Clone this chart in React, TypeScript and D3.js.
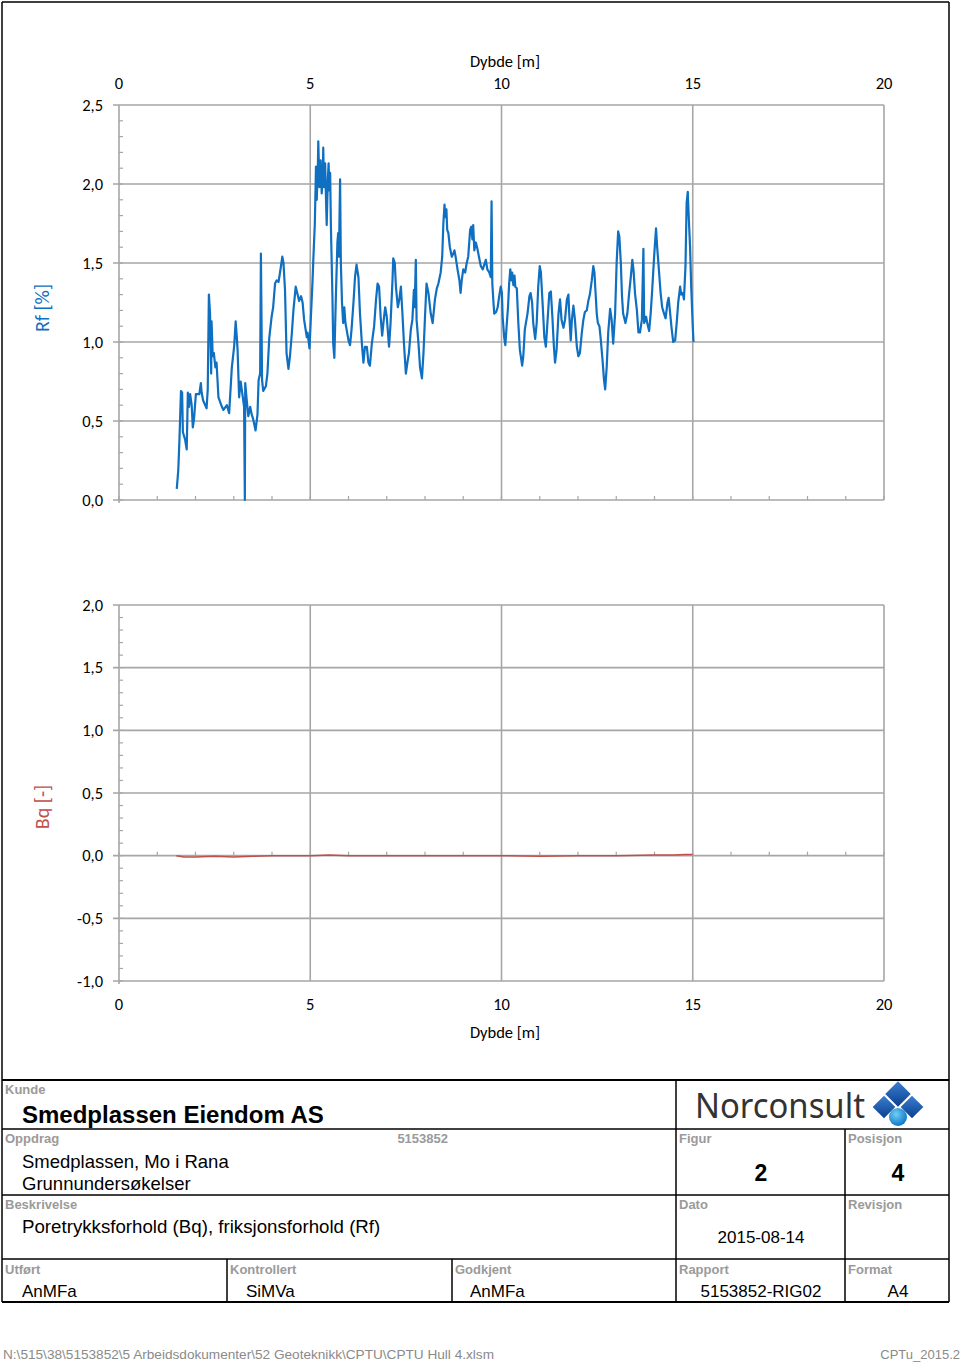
import React from "react";
import * as d3 from "d3";

// ---------- DATA ----------
const depthTicks = [0, 5, 10, 15, 20];
const rfTicks = [0, 0.5, 1.0, 1.5, 2.0, 2.5];
const bqTicks = [-1.0, -0.5, 0, 0.5, 1.0, 1.5, 2.0];

// Rf [%] vs depth [m]
const rfSeries: [number, number][] = [
  [1.51,0.07],[1.55,0.19],[1.58,0.38],[1.62,0.69],[1.65,0.68],[1.67,0.43],[1.73,0.38],[1.77,0.32],[1.80,0.68],[1.83,0.59],[1.86,0.67],[1.90,0.60],[1.93,0.46],[1.96,0.51],[2.01,0.67],[2.10,0.67],[2.14,0.74],[2.16,0.68],[2.20,0.63],[2.29,0.58],[2.32,0.70],[2.35,1.30],[2.38,1.18],[2.41,0.80],[2.42,1.13],[2.45,0.91],[2.48,0.93],[2.52,0.84],[2.55,0.87],[2.60,0.65],[2.69,0.59],[2.73,0.57],[2.82,0.60],[2.88,0.55],[2.95,0.84],[3.01,0.97],[3.05,1.13],[3.08,1.03],[3.10,0.95],[3.14,0.65],[3.18,0.75],[3.22,0.68],[3.27,0.59],[3.29,0.00],[3.30,0.74],[3.34,0.63],[3.38,0.53],[3.43,0.59],[3.47,0.54],[3.51,0.51],[3.57,0.44],[3.62,0.54],[3.65,0.76],[3.69,0.80],[3.71,1.56],[3.74,0.76],[3.77,0.69],[3.84,0.72],[3.88,0.80],[3.93,1.03],[3.99,1.16],[4.03,1.22],[4.08,1.37],[4.12,1.39],[4.17,1.38],[4.21,1.44],[4.27,1.54],[4.30,1.50],[4.34,1.33],[4.38,0.93],[4.43,0.83],[4.47,0.91],[4.52,1.06],[4.56,1.20],[4.62,1.35],[4.66,1.31],[4.71,1.26],[4.76,1.29],[4.80,1.25],[4.84,1.14],[4.91,1.03],[4.93,1.06],[4.98,0.96],[5.01,1.12],[5.06,1.39],[5.08,1.52],[5.12,1.75],[5.15,2.11],[5.17,1.90],[5.20,2.12],[5.21,2.27],[5.24,1.98],[5.27,2.15],[5.30,1.94],[5.33,2.09],[5.34,2.23],[5.36,1.98],[5.39,2.13],[5.41,1.92],[5.43,1.74],[5.46,2.03],[5.48,2.13],[5.50,1.96],[5.52,2.07],[5.54,1.73],[5.58,1.29],[5.60,0.99],[5.63,0.90],[5.67,1.29],[5.71,1.63],[5.73,1.69],[5.75,1.54],[5.78,2.03],[5.80,1.50],[5.83,1.25],[5.86,1.12],[5.89,1.22],[5.92,1.12],[5.95,1.08],[6.00,1.01],[6.04,0.98],[6.08,1.08],[6.13,1.25],[6.17,1.41],[6.21,1.49],[6.26,1.41],[6.30,1.18],[6.35,0.99],[6.39,0.87],[6.43,0.97],[6.48,0.97],[6.52,0.87],[6.56,0.85],[6.61,0.99],[6.67,1.10],[6.72,1.27],[6.76,1.37],[6.80,1.35],[6.84,1.16],[6.88,1.04],[6.93,1.16],[6.96,1.22],[7.00,1.16],[7.06,0.97],[7.10,1.12],[7.15,1.39],[7.17,1.53],[7.21,1.50],[7.24,1.35],[7.29,1.22],[7.33,1.27],[7.37,1.35],[7.41,1.18],[7.45,0.99],[7.50,0.80],[7.54,0.87],[7.58,0.93],[7.63,1.08],[7.67,1.14],[7.71,1.33],[7.73,1.22],[7.76,1.52],[7.78,1.14],[7.83,0.99],[7.87,0.84],[7.92,0.77],[7.96,0.93],[8.00,1.16],[8.04,1.37],[8.09,1.31],[8.15,1.18],[8.20,1.12],[8.26,1.27],[8.31,1.34],[8.35,1.37],[8.41,1.44],[8.45,1.54],[8.48,1.75],[8.51,1.87],[8.53,1.79],[8.56,1.84],[8.58,1.71],[8.61,1.69],[8.65,1.60],[8.70,1.54],[8.74,1.56],[8.77,1.58],[8.80,1.54],[8.85,1.46],[8.90,1.39],[8.93,1.31],[8.96,1.39],[9.00,1.46],[9.05,1.44],[9.09,1.50],[9.13,1.54],[9.18,1.71],[9.21,1.73],[9.24,1.65],[9.26,1.74],[9.29,1.58],[9.33,1.63],[9.37,1.59],[9.41,1.54],[9.46,1.48],[9.51,1.46],[9.55,1.49],[9.59,1.52],[9.63,1.46],[9.68,1.44],[9.72,1.41],[9.74,1.89],[9.76,1.37],[9.79,1.25],[9.81,1.18],[9.86,1.19],[9.90,1.22],[9.94,1.29],[9.98,1.35],[10.01,1.31],[10.03,1.16],[10.07,1.03],[10.10,0.98],[10.14,1.12],[10.17,1.22],[10.20,1.37],[10.23,1.46],[10.26,1.39],[10.28,1.44],[10.31,1.36],[10.34,1.42],[10.36,1.35],[10.40,1.34],[10.44,1.12],[10.48,0.95],[10.54,0.85],[10.57,0.91],[10.61,1.08],[10.68,1.18],[10.73,1.29],[10.76,1.31],[10.80,1.25],[10.83,1.12],[10.88,1.02],[10.92,1.12],[10.96,1.35],[11.00,1.48],[11.03,1.44],[11.08,1.22],[11.12,1.03],[11.16,0.97],[11.20,1.12],[11.25,1.31],[11.29,1.32],[11.33,1.16],[11.37,0.97],[11.40,0.87],[11.44,0.95],[11.49,1.18],[11.53,1.27],[11.57,1.14],[11.62,1.09],[11.66,1.14],[11.71,1.27],[11.75,1.30],[11.77,1.18],[11.81,1.01],[11.84,1.14],[11.88,1.23],[11.92,1.14],[11.97,0.97],[12.01,0.91],[12.05,0.93],[12.10,1.06],[12.14,1.14],[12.18,1.19],[12.23,1.20],[12.27,1.26],[12.31,1.30],[12.36,1.39],[12.40,1.48],[12.43,1.44],[12.45,1.35],[12.49,1.18],[12.52,1.12],[12.56,1.10],[12.59,1.03],[12.64,0.89],[12.68,0.76],[12.71,0.70],[12.75,0.84],[12.79,1.06],[12.84,1.21],[12.88,1.14],[12.92,0.99],[12.97,1.18],[13.01,1.50],[13.05,1.70],[13.08,1.67],[13.12,1.50],[13.15,1.29],[13.18,1.18],[13.24,1.12],[13.29,1.18],[13.33,1.29],[13.38,1.41],[13.42,1.52],[13.45,1.46],[13.49,1.31],[13.54,1.20],[13.58,1.06],[13.62,1.06],[13.67,1.14],[13.71,1.59],[13.73,1.12],[13.78,1.16],[13.81,1.12],[13.86,1.07],[13.90,1.18],[13.94,1.33],[13.99,1.54],[14.04,1.72],[14.07,1.60],[14.12,1.44],[14.16,1.31],[14.20,1.22],[14.25,1.18],[14.29,1.15],[14.34,1.25],[14.37,1.28],[14.41,1.18],[14.45,1.08],[14.49,1.00],[14.54,1.01],[14.58,1.12],[14.62,1.25],[14.67,1.35],[14.70,1.30],[14.74,1.31],[14.77,1.27],[14.81,1.48],[14.84,1.88],[14.87,1.95],[14.89,1.82],[14.93,1.60],[14.96,1.35],[15.00,1.10],[15.02,1.00]
];

// Bq [-] vs depth [m]
const bqDepth = [1.5, 1.7, 2.0, 2.5, 3.0, 3.5, 4.0, 5.0, 5.5, 6.0, 7.0, 8.0, 9.0, 10.0, 11.0, 12.0, 13.0, 14.0, 14.5, 14.8, 15.0];
const bqValue = [0.0, -0.01, -0.01, -0.005, -0.01, -0.005, 0.0, 0.0, 0.005, 0.0, 0.0, 0.0, 0.0, 0.0, -0.005, 0.0, 0.0, 0.005, 0.005, 0.01, 0.01];

// Title block texts
const kunde = "Smedplassen Eiendom AS";
const oppdragNr = "5153852";
const oppdragLines = ["Smedplassen, Mo i Rana", "Grunnundersøkelser"];
const beskrivelse = "Poretrykksforhold (Bq), friksjonsforhold (Rf)";
const figur = "2";
const posisjon = "4";
const dato = "2015-08-14";
const utfort = "AnMFa";
const kontrollert = "SiMVa";
const godkjent = "AnMFa";
const rapport = "5153852-RIG02";
const format = "A4";
const filePath = "N:\\515\\38\\5153852\\5 Arbeidsdokumenter\\52 Geoteknikk\\CPTU\\CPTU Hull 4.xlsm";
const version = "CPTu_2015.2";

// ---------- STYLE ----------
const GRID = "#a6a6a6";
const BLUE = "#0f6fc0";
const RED = "#c0504d";
const chartFont = "Carlito, Calibri, Lato, 'Open Sans', sans-serif";
const boxFont = "'Liberation Sans', Arial, sans-serif";
const LBL = "#9a9a9a";
const TICK_FS = 16.5;

const fmt = (v: number) => d3.format(".1f")(v).replace(".", ",").replace("−", "-");

export default function App() {
  const x = d3.scaleLinear().domain([0, 20]).range([119, 884]);
  const yRf = d3.scaleLinear().domain([0, 2.5]).range([500, 105]);
  const yBq = d3.scaleLinear().domain([-1, 2]).range([981, 605]);

  const rfLine = d3.line<[number, number]>().x((d) => x(d[0])).y((d) => yRf(d[1]));
  const bqLine = d3
    .line<number>()
    .x((_, i) => x(bqDepth[i]))
    .y((d) => yBq(d));

  const minorX = d3.range(0, 21, 1);
  const minorRf = d3.range(0, 25).map((i) => i / 10);
  const minorBq = d3.range(-10, 20).map((i) => i / 10);

  const xL = x(0);
  const xR = x(20);

  return (
    <svg
      width={960}
      height={1364}
      style={{ position: "absolute", left: 0, top: 0, background: "#fff" }}
    >
      <rect x={0} y={0} width={960} height={1364} fill="#fff" />
      {/* outer frame */}
      <line x1={2} y1={2} x2={949} y2={2} stroke="#000" strokeWidth={1.5} />
      <line x1={2} y1={2} x2={2} y2={1302} stroke="#000" strokeWidth={1.5} />
      <line x1={949} y1={2} x2={949} y2={1302} stroke="#000" strokeWidth={1.5} />

      {/* ===== TOP CHART (Rf) ===== */}
      <g>
        {rfTicks.map((t) => (
          <line key={"rg" + t} x1={xL - 6} x2={xR} y1={yRf(t)} y2={yRf(t)} stroke={GRID} strokeWidth={1.6} />
        ))}
        {depthTicks.map((t) => (
          <line key={"rv" + t} x1={x(t)} x2={x(t)} y1={yRf(2.5)} y2={yRf(0) + (t === 0 ? 3 : 0)} stroke={GRID} strokeWidth={1.6} />
        ))}
        {minorRf.map((t) => (
          <line key={"rm" + t} x1={xL} x2={xL + 4} y1={yRf(t)} y2={yRf(t)} stroke={GRID} strokeWidth={1.2} />
        ))}
        {minorX.map((t) => (
          <line key={"rmx" + t} x1={x(t)} x2={x(t)} y1={yRf(0)} y2={yRf(0) - 4} stroke={GRID} strokeWidth={1.2} />
        ))}
        {rfTicks.map((t) => (
          <text key={"rl" + t} x={103} y={yRf(t)} dy="0.35em" textAnchor="end" fontFamily={chartFont} fontSize={TICK_FS} fill="#000">
            {fmt(t)}
          </text>
        ))}
        {depthTicks.map((t) => (
          <text key={"rx" + t} x={x(t)} y={83} dy="0.35em" textAnchor="middle" fontFamily={chartFont} fontSize={TICK_FS} fill="#000">
            {t}
          </text>
        ))}
        <text x={505} y={61} dy="0.35em" textAnchor="middle" fontFamily={chartFont} fontSize={TICK_FS} fill="#000">
          Dybde [m]
        </text>
        <text
          transform={`translate(42,308) rotate(-90)`}
          dy="0.35em"
          textAnchor="middle"
          fontFamily={chartFont}
          fontSize={20}
          fill={BLUE}
        >
          Rf [%]
        </text>
        <path d={rfLine(rfSeries) || ""} fill="none" stroke={BLUE} strokeWidth={2.2} strokeLinejoin="round" />
      </g>

      {/* ===== BOTTOM CHART (Bq) ===== */}
      <g>
        {bqTicks.map((t) => (
          <line key={"bg" + t} x1={xL - 6} x2={xR} y1={yBq(t)} y2={yBq(t)} stroke={GRID} strokeWidth={1.6} />
        ))}
        {depthTicks.map((t) => (
          <line key={"bv" + t} x1={x(t)} x2={x(t)} y1={yBq(2)} y2={yBq(-1) + (t === 0 ? 3 : 0)} stroke={GRID} strokeWidth={1.6} />
        ))}
        {minorBq.map((t) => (
          <line key={"bm" + t} x1={xL} x2={xL + 4} y1={yBq(t)} y2={yBq(t)} stroke={GRID} strokeWidth={1.2} />
        ))}
        {minorX.map((t) => (
          <line key={"bmx" + t} x1={x(t)} x2={x(t)} y1={yBq(0)} y2={yBq(0) - 4} stroke={GRID} strokeWidth={1.2} />
        ))}
        {bqTicks.map((t) => (
          <text key={"bl" + t} x={103} y={yBq(t)} dy="0.35em" textAnchor="end" fontFamily={chartFont} fontSize={TICK_FS} fill="#000">
            {fmt(t)}
          </text>
        ))}
        {depthTicks.map((t) => (
          <text key={"bx" + t} x={x(t)} y={1004} dy="0.35em" textAnchor="middle" fontFamily={chartFont} fontSize={TICK_FS} fill="#000">
            {t}
          </text>
        ))}
        <text x={505} y={1032} dy="0.35em" textAnchor="middle" fontFamily={chartFont} fontSize={TICK_FS} fill="#000">
          Dybde [m]
        </text>
        <text
          transform={`translate(42,807) rotate(-90)`}
          dy="0.35em"
          textAnchor="middle"
          fontFamily={chartFont}
          fontSize={20}
          fill={RED}
        >
          Bq [-]
        </text>
        <path d={bqLine(bqValue) || ""} fill="none" stroke={RED} strokeWidth={1.5} />
      </g>

      {/* ===== TITLE BLOCK ===== */}
      <g stroke="#000" strokeWidth={2}>
        <line x1={2} y1={1080} x2={949} y2={1080} />
        <line x1={2} y1={1129} x2={949} y2={1129} strokeWidth={1.5} />
        <line x1={2} y1={1195} x2={949} y2={1195} strokeWidth={1.5} />
        <line x1={2} y1={1259} x2={949} y2={1259} strokeWidth={1.5} />
        <line x1={2} y1={1302} x2={949} y2={1302} />
        <line x1={676} y1={1080} x2={676} y2={1302} strokeWidth={1.5} />
        <line x1={845} y1={1129} x2={845} y2={1302} strokeWidth={1.5} />
        <line x1={227} y1={1259} x2={227} y2={1302} strokeWidth={1.5} />
        <line x1={452} y1={1259} x2={452} y2={1302} strokeWidth={1.5} />
      </g>
      <g fontFamily={boxFont} fontSize={13} fontWeight="bold" fill={LBL}>
        <text x={5} y={1094}>Kunde</text>
        <text x={5} y={1143}>Oppdrag</text>
        <text x={448} y={1143} textAnchor="end">{oppdragNr}</text>
        <text x={5} y={1209}>Beskrivelse</text>
        <text x={5} y={1274}>Utført</text>
        <text x={230} y={1274}>Kontrollert</text>
        <text x={455} y={1274}>Godkjent</text>
        <text x={679} y={1143}>Figur</text>
        <text x={848} y={1143}>Posisjon</text>
        <text x={679} y={1209}>Dato</text>
        <text x={848} y={1209}>Revisjon</text>
        <text x={679} y={1274}>Rapport</text>
        <text x={848} y={1274}>Format</text>
      </g>
      <g fontFamily={boxFont} fill="#000">
        <text x={22} y={1123} fontSize={24} fontWeight="bold">{kunde}</text>
        <text x={22} y={1168} fontSize={18.5}>{oppdragLines[0]}</text>
        <text x={22} y={1190} fontSize={18.5}>{oppdragLines[1]}</text>
        <text x={22} y={1233} fontSize={18.7}>{beskrivelse}</text>
        <text x={22} y={1297} fontSize={17}>{utfort}</text>
        <text x={246} y={1297} fontSize={17}>{kontrollert}</text>
        <text x={470} y={1297} fontSize={17}>{godkjent}</text>
        <text x={761} y={1181} fontSize={23} fontWeight="bold" textAnchor="middle">{figur}</text>
        <text x={898} y={1181} fontSize={23} fontWeight="bold" textAnchor="middle">{posisjon}</text>
        <text x={761} y={1243} fontSize={17} textAnchor="middle">{dato}</text>
        <text x={761} y={1297} fontSize={17} textAnchor="middle">{rapport}</text>
        <text x={898} y={1297} fontSize={17} textAnchor="middle">{format}</text>
      </g>

      {/* logo */}
      <defs>
        <linearGradient id="lgBlue" x1="0" y1="0" x2="1" y2="1">
          <stop offset="0%" stopColor="#3a7fd0" />
          <stop offset="100%" stopColor="#0b3f8f" />
        </linearGradient>
        <radialGradient id="rgBall" cx="0.4" cy="0.35" r="0.7">
          <stop offset="0%" stopColor="#6fd0f5" />
          <stop offset="100%" stopColor="#0a6fc4" />
        </radialGradient>
      </defs>
      <text
        x={695}
        y={1118}
        fontFamily="'Noto Sans', 'Open Sans', sans-serif"
        fontSize={34}
        fill="#333"
        textLength={170}
        lengthAdjust="spacingAndGlyphs"
      >
        Norconsult
      </text>
      <g>
        <rect x={-9} y={-9} width={18} height={18} fill="url(#lgBlue)" transform="translate(898,1094) rotate(45)" />
        <rect x={-8} y={-8} width={16} height={16} fill="url(#lgBlue)" transform="translate(884,1107) rotate(45)" />
        <rect x={-8} y={-8} width={16} height={16} fill="url(#lgBlue)" transform="translate(912,1107) rotate(45)" />
        <circle cx={898} cy={1117} r={9} fill="url(#rgBall)" />
      </g>

      {/* footer */}
      <text x={3} y={1359} fontFamily={boxFont} fontSize={13} fill="#8a8a8a" textLength={491} lengthAdjust="spacingAndGlyphs">
        {filePath}
      </text>
      <text x={960} y={1359} fontFamily={boxFont} fontSize={13} fill="#8a8a8a" textAnchor="end">
        {version}
      </text>
    </svg>
  );
}
